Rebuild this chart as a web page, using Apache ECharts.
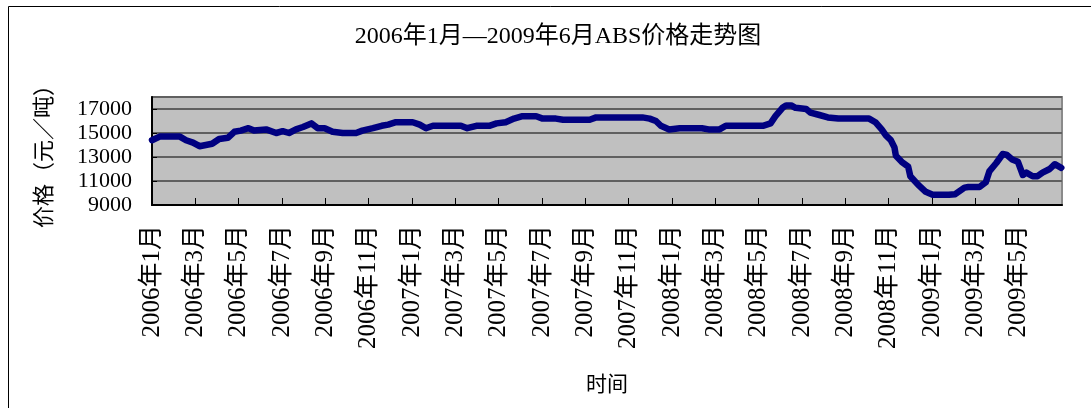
<!DOCTYPE html>
<html>
<head>
    <meta charset="utf-8">
    <script src="https://cdn.jsdelivr.net/npm/echarts@6/dist/echarts.min.js"></script>
    <style>
        body { margin: 0; background: #fff; }
    </style>
</head>
<body>
<div id="chart" style="width: 1091px; height: 408px;"></div>
<script type="text/javascript">
    // Data
    var dates = [
        '2006-01-01', '2006-01-12', '2006-02-09', '2006-02-17', '2006-02-26', '2006-03-07', '2006-03-16', '2006-03-25',
        '2006-04-04', '2006-04-16', '2006-04-25', '2006-05-04', '2006-05-15', '2006-05-23', '2006-06-09', '2006-06-23',
        '2006-07-02', '2006-07-11', '2006-07-21', '2006-07-31', '2006-08-12', '2006-08-21', '2006-08-31', '2006-09-11',
        '2006-09-25', '2006-10-14', '2006-10-23', '2006-11-07', '2006-11-19', '2006-11-28', '2006-12-09', '2007-01-02',
        '2007-01-12', '2007-01-21', '2007-01-31', '2007-03-09', '2007-03-18', '2007-03-31', '2007-04-18', '2007-04-28',
        '2007-05-11', '2007-05-23', '2007-06-04', '2007-06-23', '2007-07-02', '2007-07-21', '2007-07-31', '2007-09-07',
        '2007-09-16', '2007-11-20', '2007-11-30', '2007-12-09', '2007-12-16', '2007-12-28', '2008-01-12', '2008-02-12',
        '2008-02-21', '2008-03-07', '2008-03-16', '2008-05-07', '2008-05-18', '2008-05-25', '2008-06-04', '2008-06-09',
        '2008-06-16', '2008-06-22', '2008-07-07', '2008-07-13', '2008-07-26', '2008-08-07', '2008-08-22', '2008-10-04',
        '2008-10-13', '2008-10-22', '2008-10-28', '2008-11-04', '2008-11-09', '2008-11-11', '2008-11-19', '2008-11-28',
        '2008-12-01', '2008-12-12', '2008-12-23', '2009-01-02', '2009-01-25', '2009-02-03', '2009-02-15', '2009-02-20',
        '2009-03-07', '2009-03-16', '2009-03-21', '2009-03-31', '2009-04-09', '2009-04-14', '2009-04-22', '2009-04-30',
        '2009-05-07', '2009-05-12', '2009-05-21', '2009-05-28', '2009-06-04', '2009-06-14', '2009-06-21', '2009-06-30'
    ];
    var prices = [
        14400, 14700, 14700, 14400, 14200, 13900, 14000, 14100,
        14500, 14600, 15100, 15200, 15400, 15200, 15300, 15000,
        15150, 15000, 15300, 15500, 15800, 15400, 15400, 15100,
        15000, 15000, 15200, 15400, 15600, 15700, 15900, 15900,
        15700, 15400, 15600, 15600, 15400, 15600, 15600, 15800,
        15900, 16200, 16400, 16400, 16200, 16200, 16100, 16100,
        16300, 16300, 16200, 16000, 15600, 15300, 15400, 15400,
        15300, 15300, 15600, 15600, 15800, 16400, 17100, 17300,
        17300, 17100, 17000, 16700, 16500, 16300, 16200, 16200,
        15900, 15300, 14800, 14400, 13800, 13100, 12600, 12200,
        11400, 10700, 10100, 9850, 9850, 9900, 10450, 10500,
        10500, 10900, 11800, 12500, 13250, 13200, 12800, 12600,
        11500, 11700, 11400, 11400, 11700, 12000, 12400, 12100
    ];
    var monthLabels = [
        '2006年1月', '2006年3月', '2006年5月', '2006年7月', '2006年9月', '2006年11月',
        '2007年1月', '2007年3月', '2007年5月', '2007年7月', '2007年9月', '2007年11月',
        '2008年1月', '2008年3月', '2008年5月', '2008年7月', '2008年9月', '2008年11月',
        '2009年1月', '2009年3月', '2009年5月'
    ];

    // month offset from 2006-01-01
    function toMonth(d) {
        var p = d.split('-').map(Number);
        var dim = new Date(p[0], p[1], 0).getDate();
        return (p[0] - 2006) * 12 + (p[1] - 1) + (p[2] - 1) / dim;
    }
    var seriesData = dates.map(function (d, i) { return [toMonth(d), prices[i]]; });

    var font = '"Liberation Serif", "Noto Sans CJK SC", serif';

    var chart = echarts.init(document.getElementById('chart'));
    var option = {
        animation: false,
        backgroundColor: '#fff',
        title: {
            text: '2006年1月—2009年6月ABS价格走势图',
            left: 553, top: 20, textAlign: 'center',
            textStyle: { fontFamily: font, fontSize: 24, fontWeight: 'normal', color: '#000' }
        },
        graphic: [{
            type: 'rect', silent: true,
            shape: { x: 8.5, y: 6.5, width: 1100, height: 420 },
            style: { fill: 'none', stroke: '#000', lineWidth: 1 }
        }],
        grid: {
            left: 152, right: 29, top: 97, bottom: 203,
            show: true, backgroundColor: '#C0C0C0', borderColor: '#8a8a8a', borderWidth: 2
        },
        xAxis: {
            type: 'value', min: 0, max: 42, interval: 2,
            name: '时间', nameLocation: 'middle', nameGap: 170,
            nameTextStyle: { fontFamily: font, fontSize: 21, color: '#000' },
            axisLine: { lineStyle: { color: '#000', width: 2 } },
            axisTick: { inside: true, length: 7, lineStyle: { color: '#000', width: 1 } },
            axisLabel: {
                rotate: 90, margin: 20, showMaxLabel: false,
                fontFamily: font, fontSize: 25, color: '#000',
                formatter: function (v) { return monthLabels[Math.round(v / 2)] || ''; }
            },
            splitLine: { show: false }
        },
        yAxis: {
            type: 'value', min: 9000, max: 18000, interval: 2000,
            name: '价格（元／吨）', nameLocation: 'middle', nameGap: 96,
            nameTextStyle: { fontFamily: font, fontSize: 22, color: '#000' },
            axisLine: { show: true, lineStyle: { color: '#000', width: 2 } },
            axisTick: { show: true, inside: true, length: 5, lineStyle: { color: '#000' } },
            axisLabel: {
                margin: 20, showMaxLabel: false, fontFamily: font, fontSize: 22, color: '#000',
                formatter: function (v) { return String(v); }
            },
            splitLine: { lineStyle: { color: '#606060', width: 2 } }
        },
        series: [{
            type: 'line',
            data: seriesData,
            showSymbol: false,
            lineStyle: { color: '#000080', width: 6.5, join: 'round', cap: 'round' },
            itemStyle: { color: '#000080' }
        }]
    };
    chart.setOption(option);
</script>
</body>
</html>
